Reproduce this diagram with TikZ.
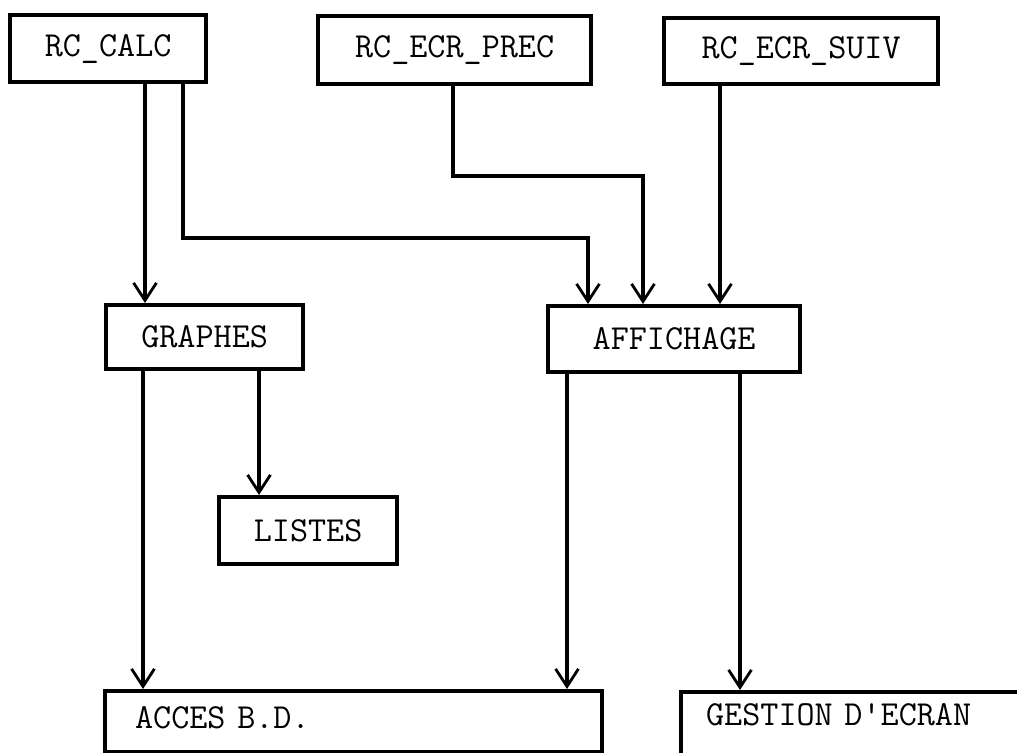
\documentclass[tikz,border=0pt]{standalone}
\usepackage{tikz}
\usetikzlibrary{arrows.meta,positioning,calc}

\begin{document}
\begin{tikzpicture}[x=0.02cm,y=-0.02cm,
        module/.style={draw,line width=2.4pt,inner sep=0pt,anchor=north west,
            font=\fontsize{20}{24}\ttfamily},
        flow/.style={line width=2.2pt,-{Straight Barb[length=10pt,width=13pt,line width=1.6pt]}}]
        \useasboundingbox (0,0) rectangle (1017,752);
        % modules du haut
        \node[module,minimum height=67*0.02cm,text width=196*0.02cm,align=center] (calc) at (8,13) {RC\_CALC};
        \node[module,minimum height=68*0.02cm,text width=273*0.02cm,align=center] (prec) at (316,14) {RC\_ECR\_PREC};
        \node[module,minimum height=66*0.02cm,text width=274*0.02cm,align=center] (suiv) at (662,16) {RC\_ECR\_SUIV};
        % modules du milieu
        \node[module,minimum height=64*0.02cm,text width=197*0.02cm,align=center] (graphes) at (104,303) {GRAPHES};
        \node[module,minimum height=66*0.02cm,text width=252*0.02cm,align=center] (affichage) at (546,304) {AFFICHAGE\hspace{0.4cm}};
        \node[module,minimum height=67*0.02cm,text width=178*0.02cm,align=center] (listes) at (217,495) {LISTES};
        % modules du bas
        \node[module,text height=0.74cm,text depth=0.48cm,text width=497*0.02cm,align=left] (acces) at (103,689) {\hspace{0.6cm}ACCES B.D.};
        \node[module,text height=0.66cm,text depth=1.2cm,text width=360*0.02cm,align=left] (gestion) at (679,690) {\hspace{0.5cm}GESTION D'ECRAN};
        % appels
        \draw[flow] (145,0 |- calc.south) -- (145,0 |- graphes.north);
        \draw[flow] (183,0 |- calc.south) -- (183,238) -- (588,238) -- (588,0 |- affichage.north);
        \draw[flow] (453,0 |- prec.south) -- (453,176) -- (643,176) -- (643,0 |- affichage.north);
        \draw[flow] (720,0 |- suiv.south) -- (720,0 |- affichage.north);
        \draw[flow] (143,0 |- graphes.south) -- (143,0 |- acces.north);
        \draw[flow] (259,0 |- graphes.south) -- (259,0 |- listes.north);
        \draw[flow] (567,0 |- affichage.south) -- (567,0 |- acces.north);
        \draw[flow] (740,0 |- affichage.south) -- (740,0 |- gestion.north);
\end{tikzpicture}
\end{document}
